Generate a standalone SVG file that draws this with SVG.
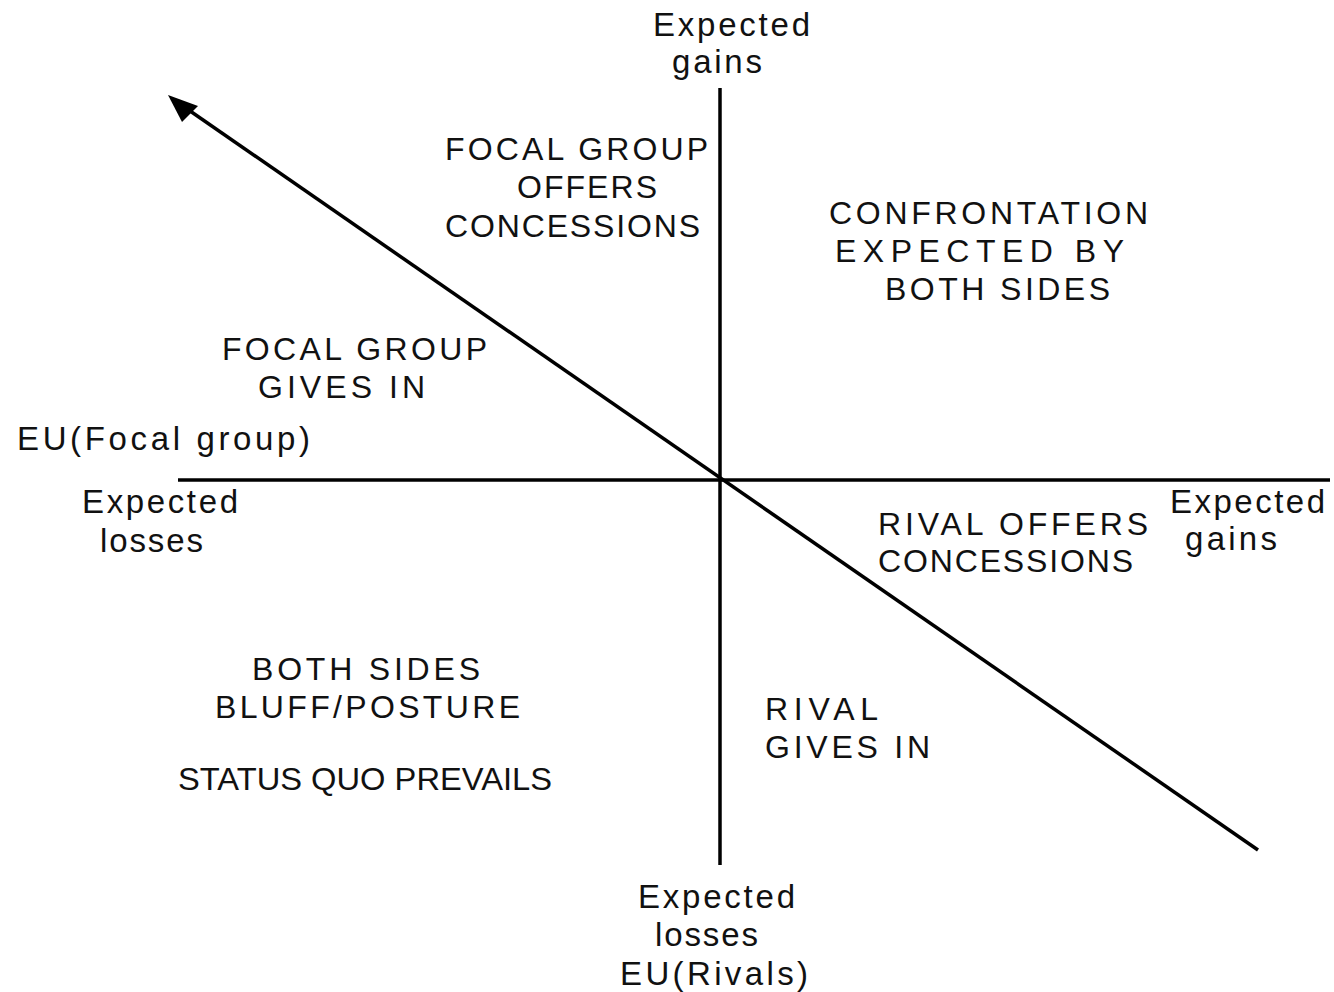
<svg xmlns="http://www.w3.org/2000/svg" width="1334" height="992" viewBox="0 0 1334 992">
<style>
text{font-family:"Liberation Sans",Arial,sans-serif;fill:#111;}
.c{font-size:32px;}
.l{font-size:33px;}
.s{font-size:31px;}
.ax{stroke:#000;stroke-width:3.5;fill:none;}
</style>
<g id="connectors">
<line class="ax" x1="720" y1="88" x2="720" y2="865"/>
<line class="ax" x1="178" y1="480" x2="1330" y2="480"/>
<line class="ax" x1="1258" y1="850" x2="180" y2="104"/>
<path d="M168,95 L198,106 L182,122 Z" fill="#000"/>
</g>
<g id="axis-top">
<text class="l" x="653" y="36" textLength="157" lengthAdjust="spacing">Expected</text>
<text class="l" x="672" y="73" textLength="90" lengthAdjust="spacing">gains</text>
</g>
<g id="focal-offers">
<text class="c" x="445" y="160" textLength="263" lengthAdjust="spacing">FOCAL GROUP</text>
<text class="c" x="517" y="198" textLength="140" lengthAdjust="spacing">OFFERS</text>
<text class="c" x="445" y="237" textLength="255" lengthAdjust="spacing">CONCESSIONS</text>
</g>
<g id="confrontation">
<text class="c" x="829" y="224" textLength="319" lengthAdjust="spacing">CONFRONTATION</text>
<text class="c" x="835" y="262" textLength="289" lengthAdjust="spacing">EXPECTED BY</text>
<text class="c" x="885" y="300" textLength="225" lengthAdjust="spacing">BOTH SIDES</text>
</g>
<g id="focal-gives">
<text class="c" x="222" y="360" textLength="265" lengthAdjust="spacing">FOCAL GROUP</text>
<text class="c" x="258" y="398" textLength="167" lengthAdjust="spacing">GIVES IN</text>
</g>
<g id="eu-focal">
<text class="l" x="17" y="450" textLength="293" lengthAdjust="spacing">EU(Focal group)</text>
</g>
<g id="axis-left">
<text class="l" x="82" y="513" textLength="156" lengthAdjust="spacing">Expected</text>
<text class="l" x="100" y="552" textLength="103" lengthAdjust="spacing">losses</text>
</g>
<g id="rival-offers">
<text class="c" x="878" y="535" textLength="270" lengthAdjust="spacing">RIVAL OFFERS</text>
<text class="c" x="878" y="572" textLength="255" lengthAdjust="spacing">CONCESSIONS</text>
</g>
<g id="axis-right">
<text class="l" x="1170" y="513" textLength="155" lengthAdjust="spacing">Expected</text>
<text class="l" x="1185" y="550" textLength="92" lengthAdjust="spacing">gains</text>
</g>
<g id="bluff">
<text class="c" x="252" y="680" textLength="228" lengthAdjust="spacing">BOTH SIDES</text>
<text class="c" x="215" y="718" textLength="305" lengthAdjust="spacing">BLUFF/POSTURE</text>
</g>
<g id="status-quo">
<text class="s" x="178" y="790" textLength="374" lengthAdjust="spacingAndGlyphs">STATUS QUO PREVAILS</text>
</g>
<g id="rival-gives">
<text class="c" x="765" y="720" textLength="113" lengthAdjust="spacing">RIVAL</text>
<text class="c" x="765" y="758" textLength="165" lengthAdjust="spacing">GIVES IN</text>
</g>
<g id="axis-bottom">
<text class="l" x="638" y="908" textLength="157" lengthAdjust="spacing">Expected</text>
<text class="l" x="655" y="946" textLength="103" lengthAdjust="spacing">losses</text>
<text class="l" x="620" y="985" textLength="188" lengthAdjust="spacing">EU(Rivals)</text>
</g>
</svg>
